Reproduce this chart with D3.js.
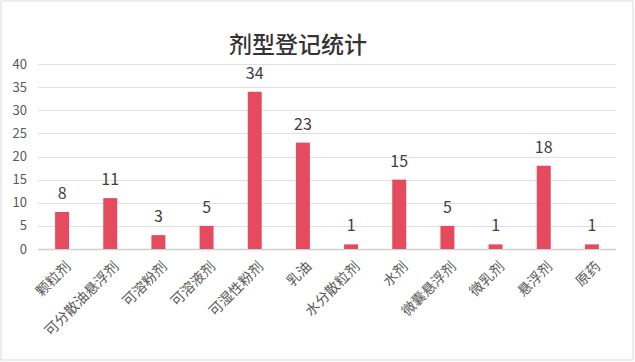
<!DOCTYPE html>
<html><head><meta charset="utf-8">
<script src="https://cdn.jsdelivr.net/npm/d3@7"></script>
<style>body{margin:0;background:#fff;}</style>
</head><body><svg id="c" width="635" height="362"></svg>
<script>
const categories = ["颗粒剂","可分散油悬浮剂","可溶粉剂","可溶液剂","可湿性粉剂","乳油","水分散粒剂","水剂","微囊悬浮剂","微乳剂","悬浮剂","原药"];
const values = [8, 11, 3, 5, 34, 23, 1, 15, 5, 1, 18, 1];
const yTicks = [0, 5, 10, 15, 20, 25, 30, 35, 40];
const title = "剂型登记统计";

(function(){
const svg = d3.select("#c");
const font = "'Noto Sans CJK SC', 'Noto Sans', sans-serif";
svg.append("rect").attr("x",1).attr("y",1).attr("width",632).attr("height",359)
  .attr("fill","#fff").attr("stroke","#d9d9d9").attr("stroke-width",1);

const mLeft = 38, mRight = 616, mTop = 64, mBottom = 249;
const x = d3.scaleBand().domain(categories).range([mLeft, mRight]).paddingInner(0.71).paddingOuter(0.355);
const y = d3.scaleLinear().domain([0, 40]).range([mBottom, mTop]);

svg.append("text").attr("x",298).attr("y",53).attr("text-anchor","middle")
  .attr("font-family",font).attr("font-size",23).attr("font-weight","500").attr("fill","#333")
  .text(title);

const gy = svg.append("g");
gy.selectAll("line").data(yTicks).join("line")
  .attr("x1",mLeft).attr("x2",mRight).attr("y1",d=>Math.round(y(d))+0.5).attr("y2",d=>Math.round(y(d))+0.5)
  .attr("stroke",d=>d===0?"#d0d0d0":"#e0e0e0").attr("stroke-width",d=>d===0?1.5:1);
gy.selectAll("text").data(yTicks).join("text")
  .attr("x",27).attr("y",d=>y(d)).attr("dy","0.35em").attr("text-anchor","end")
  .attr("font-family",font).attr("font-size",13).attr("fill","#595959").text(d=>d);

svg.append("g").selectAll("rect").data(values).join("rect")
  .attr("x",(d,i)=>x(categories[i])).attr("width",x.bandwidth())
  .attr("y",d=>y(d)).attr("height",d=>y(0)-y(d)).attr("fill","#E64A5E");

svg.append("g").selectAll("text").data(values).join("text")
  .attr("x",(d,i)=>x(categories[i])+x.bandwidth()/2).attr("y",d=>y(d)-13)
  .attr("text-anchor","middle").attr("font-family",font).attr("font-size",16).attr("fill","#404040")
  .text(d=>d);

svg.append("g").selectAll("text").data(categories).join("text")
  .attr("transform",d=>`translate(${x(d)+x.bandwidth()/2+6},${mBottom+15}) rotate(-45)`)
  .attr("text-anchor","end").attr("dy","0.35em")
  .attr("font-family",font).attr("font-size",14).attr("fill","#595959").text(d=>d);
})();
</script></body></html>
